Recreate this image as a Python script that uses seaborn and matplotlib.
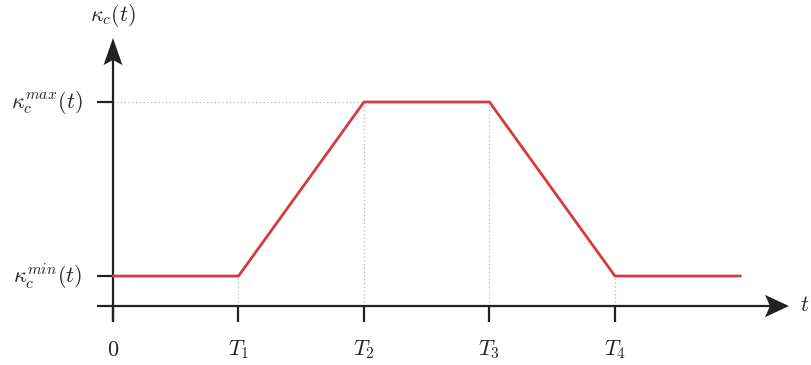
import matplotlib
matplotlib.use("Agg")
import matplotlib.pyplot as plt
import seaborn as sns
import pandas as pd
from matplotlib.patches import Polygon

# Piecewise-linear curvature schedule
t_points = [0, 1, 2, 3, 4, 5]
kappa_min = 0.147
kappa_max = 1.0
kappa_points = [kappa_min, kappa_min, kappa_max, kappa_max, kappa_min, kappa_min]
tick_labels = ["$0$", "$T_1$", "$T_2$", "$T_3$", "$T_4$"]
tick_positions = [0, 1, 2, 3, 4]

sns.set_style("white")
plt.rcParams["mathtext.fontset"] = "cm"
plt.rcParams["font.family"] = ["DejaVu Serif"]

fig = plt.figure(figsize=(8.11, 3.65), dpi=100)
ax = fig.add_axes([0, 0, 1, 1])

axis_color = "#222222"
guide_color = "#b4b4b4"
tick_len_y = 0.078   # tick length in y units
tick_len_x = 0.127   # tick length in x units

# helper guide lines (dotted)
ax.plot([0, 2], [kappa_max, kappa_max], linestyle=(0, (1, 2)), color=guide_color, lw=0.9)
for tp, kp in zip(t_points[1:5], kappa_points[1:5]):
    ax.plot([tp, tp], [0, kp], linestyle=(0, (1, 2)), color=guide_color, lw=0.9)

# axes lines with stealth-style arrow heads
x_tip, x_base, x_notch, x_half = 5.386, 5.195, 5.235, 0.055
y_tip, y_base, y_notch, y_half = 1.314, 1.181, 1.206, 0.075
ax.plot([-tick_len_x, x_notch], [0, 0], color=axis_color, lw=1.6, solid_capstyle="butt")
ax.plot([0, 0], [-tick_len_y, y_notch], color=axis_color, lw=1.6, solid_capstyle="butt")
ax.add_patch(Polygon([[x_tip, 0], [x_base, x_half], [x_notch, 0], [x_base, -x_half]],
                     closed=True, color=axis_color, lw=0))
ax.add_patch(Polygon([[0, y_tip], [-y_half, y_base], [0, y_notch], [y_half, y_base]],
                     closed=True, color=axis_color, lw=0))

# ticks
for tp in tick_positions:
    ax.plot([tp, tp], [-tick_len_y, 0], color=axis_color, lw=1.6, solid_capstyle="butt")
for kp in (kappa_min, kappa_max):
    ax.plot([-tick_len_x, 0], [kp, kp], color=axis_color, lw=1.6, solid_capstyle="butt")

# schedule curve
df = pd.DataFrame({"t": t_points, "kappa": kappa_points})
sns.lineplot(data=df, x="t", y="kappa", ax=ax, color="#d23c3f", lw=2.0, sort=False)
ax.set_xlim(-0.9004, 5.562)
ax.set_ylim(-0.289, 1.5)
ax.axis("off")

fs = 16
for tp, lab in zip(tick_positions, tick_labels):
    ax.text(tp, -0.216, lab, ha="center", va="center", fontsize=fs)
ax.text(-0.245, kappa_max, r"$\kappa_c^{max}(t)$", ha="right", va="center", fontsize=fs)
ax.text(-0.245, kappa_min, r"$\kappa_c^{min}(t)$", ha="right", va="center", fontsize=fs)
ax.text(0, 1.426, r"$\kappa_c(t)$", ha="center", va="center", fontsize=fs)
ax.text(5.475, 0.005, r"$t$", ha="left", va="center", fontsize=fs)

fig.savefig("out.png", dpi=100)
